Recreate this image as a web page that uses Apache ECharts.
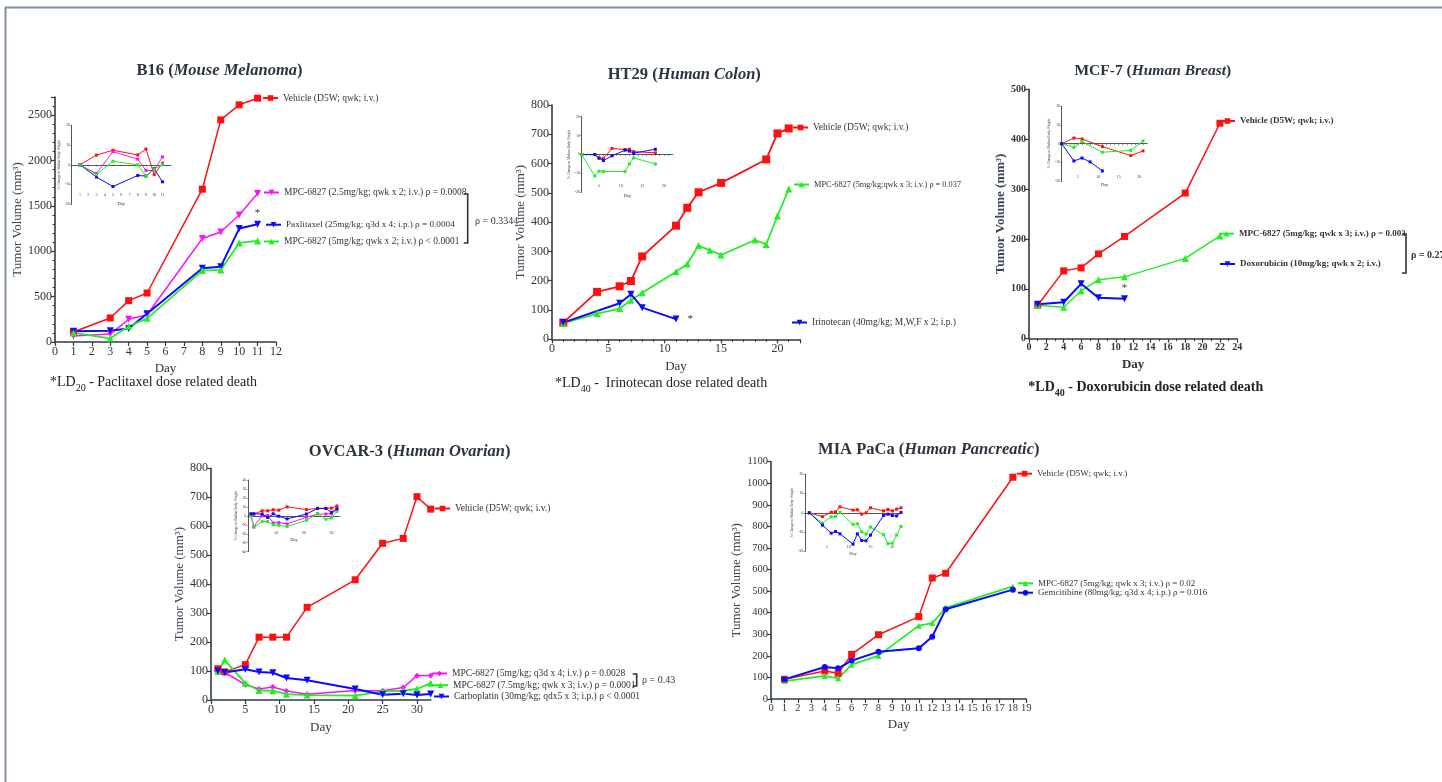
<!DOCTYPE html>
<html><head><meta charset="utf-8">
<script src="https://cdn.jsdelivr.net/npm/echarts@6/dist/echarts.min.js"></script>
<style>html,body{margin:0;padding:0;background:#fff}#c{width:1442px;height:782px}</style>
</head><body><div id="c"></div>
<script>
// ---------- DATA ----------
// B16 (Mouse Melanoma)
const b16Days = [1, 3, 4, 5, 8, 9, 10, 11];
const b16Vehicle = [110, 265, 456, 540, 1684, 2448, 2614, 2687];
const b16Mpc25 = [66, 88, 250, 300, 1140, 1213, 1400, 1636];
const b16Paclitaxel = [118, 125, 150, 312, 812, 830, 1250, 1298];
const b16Mpc5 = [100, 40, 173, 261, 787, 794, 1092, 1114];
const b16InsetDays = [1, 3, 5, 8, 9, 10, 11];
const b16InsetVehicle = [0, 4.9, 7.4, 5, 8, -5, 0.8];
const b16InsetMpc25 = [0, -4.4, 6.7, 2.9, -2.9, -2.9, 4];
const b16InsetPaclitaxel = [0, -6.2, -11, -5.4, -5.7, -2, -8.6];
const b16InsetMpc5 = [0, -5, 1.8, 0, -5.7, -2.4, 0.3];
// HT29 (Human Colon)
const htVehDays = [1, 4, 6, 7, 8, 11, 12, 13, 15, 19, 20, 21];
const htVehicle = [57, 162, 181, 199, 283, 388, 449, 502, 534, 614, 703, 720];
const htMpcDays = [1, 4, 6, 7, 8, 11, 12, 13, 14, 15, 18, 19, 20, 21];
const htMpc = [55, 88, 105, 133, 159, 231, 257, 320, 304, 288, 339, 324, 421, 513];
const htIriDays = [1, 6, 7, 8, 11];
const htIrinotecan = [57, 123, 154, 108, 69];
const htInsetDays = [1, 4, 5, 6, 8, 11, 12, 13, 18];
const htInsetVehicle = [0, 0, -2, -2, 3.2, 2.6, 2.8, 1.5, 0.9];
const htInsetIrinotecan = [0, 0, -1.8, -3.2, -0.7, 2.3, 1.8, 0.7, 2.8];
const htInsetMpcDays = [1, 4, 5, 6, 11, 12, 13, 18];
const htInsetMpc = [0, -11.3, -8.8, -9, -9, -5, -1.8, -5];
// MCF-7 (Human Breast)
const mcfDays = [1, 4, 6, 8, 11, 18, 22];
const mcfVehicle = [67, 136, 142, 170, 205, 292, 432];
const mcfMpc = [67, 63, 96, 118, 124, 161, 206];
const mcfDoxDays = [1, 4, 6, 8, 11];
const mcfDoxorubicin = [69, 73, 110, 82, 80];
const mcfInsetDays = [1, 4, 6, 11, 18, 21];
const mcfInsetVehicle = [0, 3, 2.5, -1.6, -6.4, -3.9];
const mcfInsetMpc = [0, -2, 1.2, -4.6, -3.6, 1.4];
const mcfInsetDoxDays = [1, 4, 6, 8, 11];
const mcfInsetDoxorubicin = [0, -9.3, -7.7, -9.8, -14.6];
// OVCAR-3 (Human Ovarian)
const ovDays = [1, 2, 5, 7, 9, 11, 14, 21, 25, 28, 30, 32];
const ovVehicle = [108, 97, 122, 217, 217, 217, 320, 415, 541, 558, 702, 659];
const ovMpc5 = [98, 95, 53, 38, 45, 31, 20, 33, 32, 43, 84, 85];
const ovMpc75 = [98, 138, 58, 33, 32, 20, 17, 15, 30, 32, 38, 58];
const ovCarboplatin = [100, 95, 106, 97, 94, 76, 68, 38, 18, 22, 17, 21];
const ovInsetVehicle = [2, 2, 5.6, 5.6, 6.8, 6.4, 10, 7, 8.3, 8.3, 8.6, 11];
const ovInsetMpc5 = [0, -12, 0, 0.4, -8, -7.5, -9, -1.5, 2, 2, 2.3, 7];
const ovInsetMpc75 = [0, -12.8, -6.4, -6.4, -10, -10.5, -12, -5, 2.6, -3.8, -2.3, 4.9];
const ovInsetCarboplatin = [2.3, 2.3, 2, -1.9, 2.3, -0.4, -3.4, 2, 8.3, 8.3, 4, 7.9];
// MIA PaCa (Human Pancreatic)
const miaDays = [1, 4, 5, 6, 8, 11, 12, 13, 18];
const miaVehicle = [91, 130, 119, 207, 298, 382, 561, 583, 1028];
const miaMpc = [83, 107, 96, 159, 201, 340, 352, 423, 522];
const miaGemcitibine = [91, 148, 142, 178, 219, 235, 289, 416, 507];
const miaInsetDays = [1, 4, 6, 7, 8, 11, 12, 13, 14, 15, 18, 19, 20, 21, 22];
const miaInsetVehicle = [0, -2, 0.3, 0.5, 3.1, 1.4, 1.6, -0.7, 0, 2.6, 1, 1.7, 1, 1.9, 2.6];
const miaInsetMpc = [0, -5.4, -2.1, -1.9, 0.3, -6, -5.7, -9.9, -11.1, -7.4, -11.4, -16, -15.8, -11.6, -7.1];
const miaInsetGemcitibine = [0, -6.4, -10.6, -9.7, -10.9, -16.3, -10.9, -14.4, -14.5, -11.6, -1.4, -0.7, -1.4, -1.6, 0.2];

// Labels
const VEH = 'Vehicle (D5W; qwk; i.v.)';
const LBL = {
  b16Mpc25: 'MPC-6827 (2.5mg/kg; qwk x 2; i.v.) ρ = 0.0008',
  b16Pac: 'Paxlitaxel (25mg/kg; q3d x 4; i.p.) ρ = 0.0004',
  b16Mpc5: 'MPC-6827 (5mg/kg; qwk x 2; i.v.) ρ < 0.0001',
  htMpc: 'MPC-6827 (5mg/kg;qwk x 3; i.v.) ρ = 0.037',
  htIri: 'Irinotecan (40mg/kg; M,W,F x 2; i.p.)',
  mcfMpc: 'MPC-6827 (5mg/kg; qwk x 3; i.v.) ρ = 0.003',
  mcfDox: 'Doxorubicin (10mg/kg; qwk x 2; i.v.)',
  ovMpc5: 'MPC-6827 (5mg/kg; q3d x 4; i.v.) ρ = 0.0028',
  ovMpc75: 'MPC-6827 (7.5mg/kg; qwk x 3; i.v.) ρ = 0.0001',
  ovCarbo: 'Carboplatin (30mg/kg; qdx5 x 3; i.p.) ρ < 0.0001',
  miaMpc: 'MPC-6827 (5mg/kg; qwk x 3; i.v.) ρ = 0.02',
  miaGem: 'Gemcitibine (80mg/kg; q3d x 4; i.p.) ρ = 0.016'
};

// ---------- BUILD ----------
const FONT = '"Liberation Serif","Times New Roman",serif';
const RED = '#ff1010', GREEN = '#22ee22', BLUE = '#0a0aff', MAG = '#ff10ff';
const AX = '#2e3b49';
const grids = [], xAxes = [], yAxes = [], series = [], legends = [], graphics = [];
const plain = v => String(v);

function mainPanel(p) {
  grids.push({left: p.left, top: p.top, width: p.width, height: p.height});
  const gi = grids.length - 1;
  const lab = {fontFamily: FONT, fontSize: p.fs, color: '#333', fontWeight: p.bold ? 'bold' : 'normal', formatter: plain};
  const line = {lineStyle: {color: AX, width: 1.6}};
  xAxes.push({gridIndex: gi, type: 'value', min: p.xMin, max: p.xMax, interval: p.xInt,
    axisLine: line, axisTick: {length: 4, lineStyle: {color: AX, width: 1.2}},
    minorTick: {show: !!p.xMinor, splitNumber: p.xMinor || 5, length: 2.5, lineStyle: {color: AX, width: 1}},
    splitLine: {show: false},
    axisLabel: Object.assign({margin: 4, showMaxLabel: !p.hideXMax}, lab),
    name: 'Day', nameLocation: 'middle', nameGap: p.xGap,
    nameTextStyle: {fontFamily: FONT, fontSize: 13, color: '#333', fontWeight: p.bold ? 'bold' : 'normal'}});
  yAxes.push({gridIndex: gi, type: 'value', min: 0, max: p.yMax, interval: p.yInt,
    axisLine: line, axisTick: {length: 4, lineStyle: {color: AX, width: 1.2}},
    minorTick: {show: !!p.yMinor, splitNumber: p.yMinor || 5, length: 2.5, lineStyle: {color: AX, width: 1}},
    splitLine: {show: false},
    axisLabel: Object.assign({margin: 3, showMaxLabel: !p.hideYMax}, lab),
    name: 'Tumor Volume (mm³)', nameLocation: 'middle', nameGap: p.yGap,
    nameTextStyle: {fontFamily: FONT, fontSize: 13, color: '#3a4654', fontWeight: p.bold ? 'bold' : 'normal'}});
  return gi;
}

function insetPanel(p) {
  grids.push({left: p.left, top: p.top, width: p.width, height: p.height});
  const gi = grids.length - 1;
  const line = {lineStyle: {color: '#444', width: 0.9}};
  xAxes.push({gridIndex: gi, type: 'value', min: p.xMin, max: p.xMax, interval: p.xInt,
    axisLine: Object.assign({onZero: true}, line),
    axisTick: {length: 1.5, lineStyle: {color: '#444', width: 0.6}},
    splitLine: {show: false},
    axisLabel: {fontFamily: FONT, fontSize: 4, color: '#333', margin: p.lm, showMinLabel: p.showMin !== false, showMaxLabel: false,
      formatter: p.fmt || plain},
    name: 'Day', nameLocation: 'middle', nameGap: p.ng,
    nameTextStyle: {fontFamily: FONT, fontSize: 4.5, color: '#333'}});
  yAxes.push({gridIndex: gi, type: 'value', min: p.yMin, max: p.yMax, interval: p.yInt,
    axisLine: line, axisTick: {length: 1.5, lineStyle: {color: '#444', width: 0.6}},
    splitLine: {show: false},
    axisLabel: {fontFamily: FONT, fontSize: 3.5, color: '#333', margin: 2},
    name: '% Change in Median Body Weight', nameLocation: 'middle', nameGap: 8,
    nameTextStyle: {fontFamily: FONT, fontSize: 3.5, color: '#333'}});
  return gi;
}

function addLine(gi, name, days, vals, color, symbol, o) {
  o = o || {};
  const s = {
    type: 'line', name: name, xAxisIndex: gi, yAxisIndex: gi,
    data: days.map((d, i) => [d, vals[i]]),
    symbol: symbol, symbolSize: o.size || 7, symbolRotate: o.rot || 0,
    lineStyle: {color: color, width: o.w || 1.5},
    itemStyle: {color: color},
    z: o.z || 3, silent: true
  };
  if (o.star) {
    const n = days.length;
    s.label = {show: true, formatter: p => p.dataIndex === n - 1 ? '*' : '', position: o.star,
      distance: o.starDist || 2, fontFamily: FONT, fontSize: 11, color: '#333'};
  }
  series.push(s);
}

function addLegend(name, textX, cy, bold, fs) {
  legends.push({data: [name], left: textX - 20, top: cy - 6.5, padding: 0, itemWidth: 15, itemHeight: 7,
    selectedMode: false, orient: 'vertical',
    textStyle: {fontFamily: FONT, fontSize: fs || 9.5, color: '#333', fontWeight: bold ? 'bold' : 'normal', padding: [1, 0, 0, 0]}});
}

function addText(x, y, text, rich, align) {
  graphics.push({type: 'text', x: x, y: y, silent: true,
    style: {text: text, rich: rich, textAlign: align || 'left', textVerticalAlign: 'middle'}});
}
function titleRich(size) {
  return {
    b: {fontFamily: FONT, fontSize: size, fontWeight: 'bold', fill: '#2b3440'},
    i: {fontFamily: FONT, fontSize: size, fontWeight: 'bold', fontStyle: 'italic', fill: '#2b3440'}
  };
}
function capRich(bold) {
  const w = bold ? 'bold' : 'normal';
  return {
    m: {fontFamily: FONT, fontSize: 14, fontWeight: w, fill: '#222', lineHeight: 15, verticalAlign: 'bottom', padding: [0, 0, 4, 0]},
    s: {fontFamily: FONT, fontSize: 10, fontWeight: w, fill: '#222', lineHeight: 10, verticalAlign: 'bottom'}
  };
}
function bracket(x, y1, y2) {
  graphics.push({type: 'polyline', silent: true,
    shape: {points: [[x - 4, y1], [x, y1], [x, y2], [x - 4, y2]]},
    style: {stroke: '#333', lineWidth: 1.6, fill: null}});
}

// ---- B16 ----
let g = mainPanel({left: 55, top: 97, width: 221, height: 245, xMin: 0, xMax: 12, xInt: 1,
  yMax: 2700, yInt: 500, yMinor: 5, hideYMax: true, fs: 12, xGap: 20, yGap: 29});
addLine(g, VEH, b16Days, b16Vehicle, RED, 'rect', {size: 7});
addLine(g, LBL.b16Mpc25, b16Days, b16Mpc25, MAG, 'triangle', {size: 7, rot: 180});
addLine(g, LBL.b16Pac, b16Days, b16Paclitaxel, BLUE, 'triangle', {size: 7, rot: 180, w: 2, star: 'top', starDist: 2});
addLine(g, LBL.b16Mpc5, b16Days, b16Mpc5, GREEN, 'triangle', {size: 7, w: 1.8});
g = insetPanel({left: 71.7, top: 125.3, width: 99, height: 79, xMin: 0, xMax: 12, xInt: 1, yMin: -20, yMax: 20, yInt: 10, lm: -11, ng: -3, showMin: false});
addLine(g, 'b16 inset vehicle', b16InsetDays, b16InsetVehicle, RED, 'rect', {size: 3, w: 1});
addLine(g, 'b16 inset mpc25', b16InsetDays, b16InsetMpc25, MAG, 'rect', {size: 3, w: 1});
addLine(g, 'b16 inset pac', b16InsetDays, b16InsetPaclitaxel, BLUE, 'rect', {size: 3, w: 1});
addLine(g, 'b16 inset mpc5', b16InsetDays, b16InsetMpc5, GREEN, 'rect', {size: 3, w: 1});
addLegend(VEH, 282, 99.5);
addLegend(LBL.b16Mpc25, 283, 194);
addLegend(LBL.b16Pac, 285, 226.7, false, 9.2);
addLegend(LBL.b16Mpc5, 283, 243);
bracket(467.7, 194, 243);
addText(475, 221, '{t|ρ = 0.3344}', {t: {fontFamily: FONT, fontSize: 10, fill: '#333'}});
addText(219.5, 71, '{b|B16 (}{i|Mouse Melanoma}{b|)}', titleRich(16.5), 'center');
addText(50, 386, '{m|*LD}{s|20}{m| - Paclitaxel dose related death}', capRich(false));

// ---- HT29 ----
g = mainPanel({left: 552, top: 105, width: 248, height: 234.3, xMin: 0, xMax: 22, xInt: 5, xMinor: 5, hideXMax: true,
  yMax: 800, yInt: 100, fs: 12, xGap: 21, yGap: 25});
addLine(g, VEH, htVehDays, htVehicle, RED, 'rect', {size: 8, w: 1.8});
addLine(g, LBL.htMpc, htMpcDays, htMpc, GREEN, 'triangle', {size: 7, w: 1.8});
addLine(g, LBL.htIri, htIriDays, htIrinotecan, BLUE, 'triangle', {size: 7, rot: 180, w: 2, star: 'right', starDist: 8});
g = insetPanel({left: 581.7, top: 116.7, width: 91, height: 75.6, xMin: 1, xMax: 22, xInt: 1, yMin: -20, yMax: 20, yInt: 10, lm: -8, ng: 1,
  fmt: v => (v % 5 === 0 ? String(v) : '')});
addLine(g, 'ht inset vehicle', htInsetDays, htInsetVehicle, RED, 'rect', {size: 3, w: 1});
addLine(g, 'ht inset iri', htInsetDays, htInsetIrinotecan, BLUE, 'rect', {size: 3, w: 1});
addLine(g, 'ht inset mpc', htInsetMpcDays, htInsetMpc, GREEN, 'rect', {size: 3, w: 1});
addLegend(VEH, 812, 129);
addLegend(LBL.htMpc, 813, 187, false, 8.3);
addLegend(LBL.htIri, 811, 324);
addText(684.3, 75, '{b|HT29 (}{i|Human Colon}{b|)}', titleRich(16.5), 'center');
addText(555, 387, '{m|*LD}{s|40}{m| -  Irinotecan dose related death}', capRich(false));

// ---- MCF-7 ----
g = mainPanel({left: 1029, top: 89.3, width: 208.3, height: 249.4, xMin: 0, xMax: 24, xInt: 2, xMinor: 2,
  yMax: 500, yInt: 100, fs: 10, bold: true, xGap: 19, yGap: 21});
addLine(g, VEH, mcfDays, mcfVehicle, RED, 'rect', {size: 7});
addLine(g, LBL.mcfMpc, mcfDays, mcfMpc, GREEN, 'triangle', {size: 7});
addLine(g, LBL.mcfDox, mcfDoxDays, mcfDoxorubicin, BLUE, 'triangle', {size: 7, rot: 180, w: 2, star: 'top', starDist: 2});
g = insetPanel({left: 1061.7, top: 106.3, width: 85.4, height: 74.7, xMin: 1, xMax: 22, xInt: 1, yMin: -20, yMax: 20, yInt: 10, lm: -6.5, ng: 1,
  fmt: v => (v % 5 === 0 ? String(v) : '')});
addLine(g, 'mcf inset vehicle', mcfInsetDays, mcfInsetVehicle, RED, 'rect', {size: 3, w: 1});
addLine(g, 'mcf inset mpc', mcfInsetDays, mcfInsetMpc, GREEN, 'rect', {size: 3, w: 1});
addLine(g, 'mcf inset dox', mcfInsetDoxDays, mcfInsetDoxorubicin, BLUE, 'rect', {size: 3, w: 1});
addLegend(VEH, 1239, 123, true, 9);
addLegend(LBL.mcfMpc, 1238, 235.7, true, 9);
addLegend(LBL.mcfDox, 1239, 266, true, 9);
bracket(1406, 234, 273);
addText(1411, 255, '{t|ρ = 0.27}', {t: {fontFamily: FONT, fontSize: 10, fontWeight: 'bold', fill: '#333'}});
addText(1152.8, 71, '{b|MCF-7 (}{i|Human Breast}{b|)}', titleRich(15.5), 'center');
addText(1028.3, 391, '{m|*LD}{s|40}{m| - Doxorubicin dose related death}', capRich(true));

// ---- OVCAR-3 ----
g = mainPanel({left: 211, top: 468.3, width: 219.7, height: 231.7, xMin: 0, xMax: 32, xInt: 5, hideXMax: true,
  yMax: 800, yInt: 100, fs: 12, xGap: 21, yGap: 25});
addLine(g, VEH, ovDays, ovVehicle, RED, 'rect', {size: 7});
addLine(g, LBL.ovMpc5, ovDays, ovMpc5, MAG, 'diamond', {size: 6});
addLine(g, LBL.ovMpc75, ovDays, ovMpc75, GREEN, 'triangle', {size: 7, w: 1.8});
addLine(g, LBL.ovCarbo, ovDays, ovCarboplatin, BLUE, 'triangle', {size: 7, rot: 180, w: 2});
g = insetPanel({left: 248.3, top: 480, width: 91.4, height: 71.7, xMin: 0, xMax: 33, xInt: 10, yMin: -40, yMax: 40, yInt: 10, lm: -21, ng: -14, showMin: false});
addLine(g, 'ov inset vehicle', ovDays, ovInsetVehicle, RED, 'rect', {size: 3, w: 1});
addLine(g, 'ov inset mpc5', ovDays, ovInsetMpc5, MAG, 'rect', {size: 3, w: 1});
addLine(g, 'ov inset mpc75', ovDays, ovInsetMpc75, GREEN, 'rect', {size: 3, w: 1});
addLine(g, 'ov inset carbo', ovDays, ovInsetCarboplatin, BLUE, 'rect', {size: 3, w: 1});
addLegend(VEH, 454, 510);
addLegend(LBL.ovMpc5, 451, 675);
addLegend(LBL.ovMpc75, 452, 686.7);
addLegend(LBL.ovCarbo, 453, 698);
bracket(636.7, 674, 686);
addText(642, 680, '{t|ρ = 0.43}', {t: {fontFamily: FONT, fontSize: 10, fill: '#333'}});
addText(409.7, 451.5, '{b|OVCAR-3 (}{i|Human Ovarian}{b|)}', titleRich(16.5), 'center');

// ---- MIA PaCa ----
g = mainPanel({left: 771, top: 461.7, width: 255.3, height: 237.3, xMin: 0, xMax: 19, xInt: 1,
  yMax: 1100, yInt: 100, fs: 10.5, xGap: 19, yGap: 25});
addLine(g, VEH, miaDays, miaVehicle, RED, 'rect', {size: 7});
addLine(g, LBL.miaMpc, miaDays, miaMpc, GREEN, 'triangle', {size: 6, w: 1.8});
addLine(g, LBL.miaGem, miaDays, miaGemcitibine, BLUE, 'circle', {size: 6, w: 2});
g = insetPanel({left: 805, top: 474.3, width: 96, height: 77, xMin: 0, xMax: 22, xInt: 5, yMin: -20, yMax: 20, yInt: 10, lm: -6, ng: 0, showMin: false});
addLine(g, 'mia inset vehicle', miaInsetDays, miaInsetVehicle, RED, 'rect', {size: 3, w: 1});
addLine(g, 'mia inset mpc', miaInsetDays, miaInsetMpc, GREEN, 'rect', {size: 3, w: 1});
addLine(g, 'mia inset gem', miaInsetDays, miaInsetGemcitibine, BLUE, 'rect', {size: 3, w: 1});
addLegend(VEH, 1036, 475.7, false, 9);
addLegend(LBL.miaMpc, 1037, 585.3, false, 9);
addLegend(LBL.miaGem, 1037, 594.7, false, 9);
addText(928.8, 450, '{b|MIA PaCa (}{i|Human Pancreatic}{b|)}', titleRich(16.5), 'center');

// Page frame
graphics.push({type: 'line', silent: true, shape: {x1: 5, y1: 7.5, x2: 1442, y2: 7.5}, style: {stroke: '#8090a2', lineWidth: 2}});
graphics.push({type: 'line', silent: true, shape: {x1: 5.5, y1: 7, x2: 5.5, y2: 782}, style: {stroke: '#8090a2', lineWidth: 2}});

const chart = echarts.init(document.getElementById('c'), null, {renderer: 'canvas'});
chart.setOption({
  animation: false, backgroundColor: '#ffffff',
  grid: grids, xAxis: xAxes, yAxis: yAxes, series: series, legend: legends, graphic: graphics
});
</script></body></html>
